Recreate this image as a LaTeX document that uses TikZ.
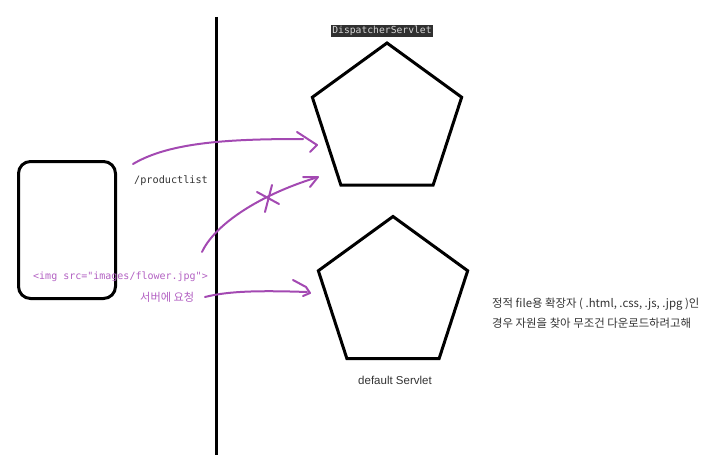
\documentclass[tikz,border=0pt]{standalone}
\usepackage{fontspec}
\usetikzlibrary{shapes.geometric}
\setmainfont{Liberation Sans}
\newfontfamily\krfont{Noto Sans CJK KR}
\newfontfamily\codefont{DejaVu Sans Mono}
\definecolor{pen}{RGB}{163,73,178}
\definecolor{lpen}{RGB}{178,96,194}
\definecolor{ink}{RGB}{51,51,51}
\definecolor{codebg}{RGB}{48,48,48}
\definecolor{codefg}{RGB}{214,214,214}
\begin{document}
\begin{tikzpicture}[x=1pt,y=-1pt,
  pent/.style={draw, line width=3pt, regular polygon, regular polygon sides=5, minimum size=157pt, inner sep=0pt},
  stroke/.style={draw=pen, line width=2pt, line cap=round, line join=round},
  lbl/.style={inner sep=0pt, anchor=west}]
\useasboundingbox (0,0) rectangle (718,460);
% divider
\coordinate (wt) at (216,17);
\coordinate (wb) at (216,455);
\draw[line width=3pt] (wt) -- (wb);
% client box
\node[draw, line width=3pt, rounded corners=12pt, minimum width=97pt, minimum height=137pt, inner sep=0pt] (client) at (67,230) {};
% servlets
\node[pent] (ds) at (387,121.5) {};
\node[pent] (def) at (393,295) {};
\node[fill=codebg, text=codefg, font=\codefont\fontsize{9.7}{11}\selectfont, inner sep=1.6pt] (dslbl) at (382,31) {DispatcherServlet};
\node[font=\fontsize{11.5}{13}\selectfont, text=ink] (deflbl) at (395,380) {default Servlet};
% texts
\node[lbl, font=\codefont\fontsize{10.2}{12}\selectfont, text=ink] (pl) at (134,181) {/productlist};
\node[lbl, font=\codefont\fontsize{10}{12}\selectfont, text=lpen] (img) at (33,277) {<img src="images/flower.jpg">};
\node[lbl, font=\krfont\fontsize{11.2}{13}\selectfont, text=lpen] (req) at (140,297) {서버에 요청};
\node[lbl, font=\krfont\fontsize{11.4}{13}\selectfont, text=ink] (note1) at (492,304) {정적 file용 확장자 ( .html, .css, .js, .jpg )인};
\node[lbl, font=\krfont\fontsize{11.4}{13}\selectfont, text=ink] (note2) at (492,323) {경우 자원을 찾아 무조건 다운로드하려고해};
% arrow 1 : /productlist -> DispatcherServlet
\coordinate (a1s) at (133,164);
\coordinate (a1e) at (303,139);
\coordinate (a1t) at (317,145);
\draw[stroke] (a1s) .. controls (170,142) and (230,139) .. (a1e);
\draw[stroke] (297,132) -- (a1t) -- (310,152);
% arrow 2 : img -> DispatcherServlet (crossed out)
\coordinate (a2s) at (202,252);
\coordinate (a2t) at (318,177);
\draw[stroke] (a2s) .. controls (215,224) and (260,195) .. (315,178);
\draw[stroke] (303,177) -- (a2t) -- (310,187);
\draw[stroke] (257,192) -- (279,204);
\draw[stroke] (272,185) -- (265,212);
% arrow 3 : request -> default Servlet
\coordinate (a3s) at (205,297);
\coordinate (a3t) at (310,293);
\draw[stroke] (a3s) .. controls (225,292) and (250,290) .. (307,292);
\draw[stroke] (293,280) -- (306,287) -- (a3t) -- (303,296);
\end{tikzpicture}
\end{document}
